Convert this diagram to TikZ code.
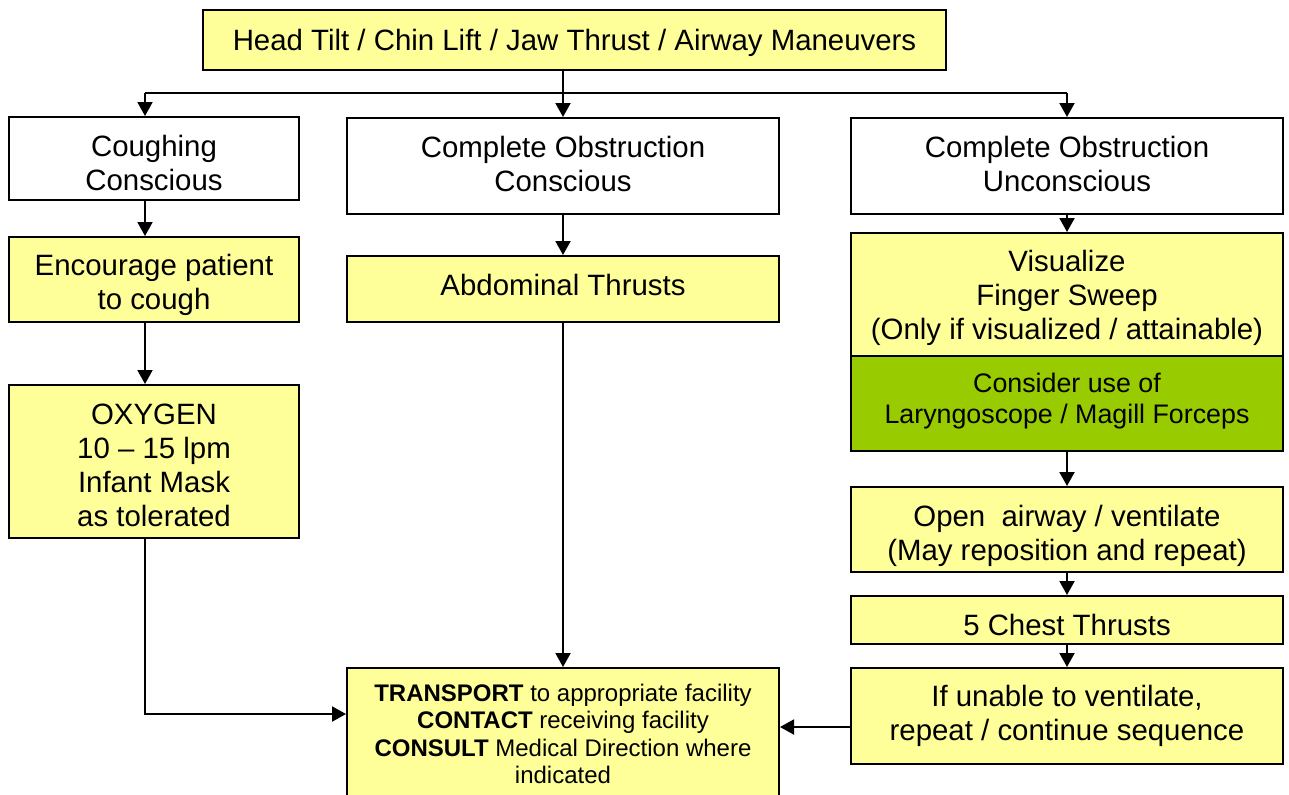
\documentclass[tikz,border=0pt]{standalone}
\usepackage{fontspec}
\setmainfont{Liberation Sans}
\usetikzlibrary{arrows.meta,calc}
\definecolor{boxyellow}{HTML}{FFFF99}
\definecolor{boxgreen}{HTML}{99CC00}
\begin{document}
\begin{tikzpicture}[x=0.5pt,y=-0.5pt,
 box/.style={draw, line width=1pt, inner sep=0pt},
 ybox/.style={box, fill=boxyellow},
 wbox/.style={box, fill=white},
 gbox/.style={box, fill=boxgreen},
 txt/.style={align=center, inner sep=0pt, font=\fontsize{14.7}{17}\selectfont},
 gtxt/.style={txt, font=\fontsize{13.4}{15.5}\selectfont},
 ttxt/.style={txt, font=\fontsize{12}{13.6}\selectfont},
 arr/.style={line width=1pt, -{Triangle[length=7pt,width=7.5pt]}},
 ln/.style={line width=1pt}]
\useasboundingbox[fill=white] (0,0) rectangle (1289,794);

% boxes
\node[ybox, minimum width=371.5pt, minimum height=30pt] (top) at (574.5,40) {};
\node[wbox, minimum width=145pt, minimum height=41.5pt] (cough) at (154,158.5) {};
\node[wbox, minimum width=216pt, minimum height=48pt] (cons) at (563,166) {};
\node[wbox, minimum width=216pt, minimum height=48pt] (uncons) at (1067,166) {};
\node[ybox, minimum width=145pt, minimum height=42.5pt] (enc) at (154,279.5) {};
\node[ybox, minimum width=216pt, minimum height=33pt] (abd) at (563,289) {};
\node[ybox, minimum width=216pt, minimum height=61.5pt] (vis) at (1067,294.5) {};
\node[gbox, minimum width=216pt, minimum height=47.5pt] (green) at (1067,403.5) {};
\node[ybox, minimum width=145pt, minimum height=76.5pt] (oxy) at (154,461.5) {};
\node[ybox, minimum width=216pt, minimum height=42.5pt] (open) at (1067,529.5) {};
\node[ybox, minimum width=216pt, minimum height=24pt] (chest) at (1067,620) {};
\node[ybox, minimum width=216pt, minimum height=48pt] (ifun) at (1067,716) {};
\node[ybox, minimum width=216pt, minimum height=66pt] (trans) at (563,734) {};

% texts
\node[txt] (top-t) at ([yshift=-1.5pt]top.center) {Head Tilt / Chin Lift / Jaw Thrust / Airway Maneuvers};
\node[txt] (cough-t) at ([yshift=-2pt]cough.center) {Coughing\\Conscious};
\node[txt] (cons-t) at ([yshift=1pt]cons.center) {Complete Obstruction\\Conscious};
\node[txt] (uncons-t) at ([yshift=1pt]uncons.center) {Complete Obstruction\\Unconscious};
\node[txt] (enc-t) at ([yshift=-2.5pt]enc.center) {Encourage patient\\to cough};
\node[txt] (abd-t) at ([yshift=2pt]abd.center) {Abdominal Thrusts};
\node[txt] (vis-t) at ([yshift=-1.5pt]vis.center) {Visualize\\Finger Sweep\\(Only if visualized / attainable)};
\node[gtxt] (green-t) at ([yshift=1pt]green.center) {Consider use of\\Laryngoscope / Magill Forceps};
\node[txt] (oxy-t) at ([yshift=-2pt]oxy.center) {OXYGEN\\10 -- 15 lpm\\Infant Mask\\as tolerated};
\node[txt] (open-t) at ([yshift=-3pt]open.center) {Open\ \ airway / ventilate\\(May reposition and repeat)};
\node[txt] (chest-t) at ([yshift=-2.5pt]chest.center) {5 Chest Thrusts};
\node[txt] (ifun-t) at (ifun.center) {If unable to ventilate,\\repeat / continue sequence};
\node[ttxt] (trans-t) at (trans.center) {\textbf{TRANSPORT} to appropriate facility\\\textbf{CONTACT} receiving facility\\\textbf{CONSULT} Medical Direction where\\indicated};

% connectors
\coordinate (hl) at (145,93);
\coordinate (hr) at (1067,93);
\draw[ln] (hl) -- (hr);
\draw[arr] (top.south -| cons.north) -- (cons.north);
\draw[arr] (hl) -- (hl |- cough.north);
\draw[arr] (hr) -- (uncons.north);

\draw[arr] (cough.south -| hl) -- (enc.north -| hl);
\draw[arr] (enc.south -| hl) -- (oxy.north -| hl);
\draw[arr] (oxy.south -| hl) |- ($(trans.west)+(0,-20)$);

\draw[arr] (cons.south) -- (abd.north);
\draw[arr] (abd.south) -- (trans.north);

\draw[arr] (uncons.south) -- (vis.north);
\draw[arr] (green.south) -- (open.north);
\draw[arr] (open.south) -- (chest.north);
\draw[arr] (chest.south) -- (ifun.north);
\draw[arr] ($(ifun.west)+(0,11)$) -- ($(trans.east)+(0,-7)$);
\end{tikzpicture}
\end{document}
